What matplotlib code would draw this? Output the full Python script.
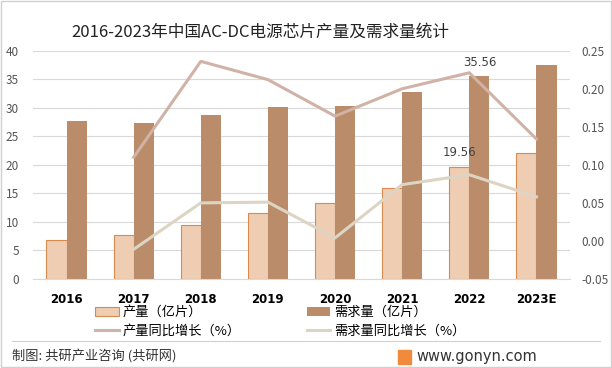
import matplotlib
matplotlib.use("Agg")
import matplotlib.pyplot as plt
import numpy as np
from matplotlib.patches import Rectangle, Patch
from matplotlib.lines import Line2D

plt.rcParams["font.family"] = ["Noto Sans CJK SC", "DejaVu Sans"]

years = ["2016", "2017", "2018", "2019", "2020", "2021", "2022", "2023E"]
output = [6.8, 7.7, 9.4, 11.5, 13.3, 16.0, 19.56, 22.0]
demand = [27.7, 27.4, 28.8, 30.2, 30.35, 32.7, 35.56, 37.5]
output_growth = [None, 0.11, 0.236, 0.212, 0.164, 0.20, 0.221, 0.134]
demand_growth = [None, -0.011, 0.05, 0.051, 0.004, 0.074, 0.087, 0.058]

c_out = "#EECDB3"
c_out_edge = "#D98B4F"
c_dem = "#BA8C6A"
c_out_line = "#D1B2A7"
c_dem_line = "#DDD5C4"

fig = plt.figure(figsize=(6.12, 3.68), dpi=100)
ax = fig.add_axes([33 / 612, 1 - 279 / 368, 537 / 612, 228.3 / 368])

x = np.arange(len(years))
w = 0.3
ax.bar(x - w / 2, output, w, color=c_out, edgecolor=c_out_edge, linewidth=0.8, zorder=2)
ax.bar(x + w / 2, demand, w, color=c_dem, zorder=2)
ax.set_ylim(0, 40)
ax.set_yticks(range(0, 41, 5))
ax.set_xlim(-0.5, len(years) - 0.5)
ax.set_xticks(x)
ax.set_xticklabels(years, fontweight="bold", fontsize=8.5, family="DejaVu Sans")
ax.tick_params(axis="x", length=0, pad=10)
ax.tick_params(axis="y", length=0, labelsize=8.5, colors="#555555", pad=10)
ax.grid(axis="y", color="#D9D9D9", linewidth=0.8, zorder=0)
for s in ax.spines.values():
    s.set_visible(False)
ax.spines["bottom"].set_visible(True)
ax.spines["bottom"].set_color("#D9D9D9")

ax.annotate("19.56", (x[6] - w / 2, output[6]), xytext=(0, 6), textcoords="offset points",
            ha="center", va="bottom", fontsize=8.5, color="#404040", family="DejaVu Sans")
ax.annotate("35.56", (x[6] + w / 2, demand[6]), xytext=(0, 5), textcoords="offset points",
            ha="center", va="bottom", fontsize=8.5, color="#404040", family="DejaVu Sans")

ax2 = ax.twinx()
ax2.plot(x[1:], output_growth[1:], color=c_out_line, linewidth=2.2, zorder=3)
ax2.plot(x[1:], demand_growth[1:], color=c_dem_line, linewidth=2.2, zorder=3)
ax2.set_ylim(-0.05, 0.25)
ax2.set_yticks(np.arange(-0.05, 0.251, 0.05))
ax2.set_yticklabels(["%.2f" % v for v in np.arange(-0.05, 0.251, 0.05)])
ax2.tick_params(axis="y", length=0, labelsize=8.5, colors="#555555", pad=8)
for s in ax2.spines.values():
    s.set_visible(False)

fig.text(260 / 612, 1 - 32 / 368, "2016-2023年中国AC-DC电源芯片产量及需求量统计", ha="center", va="center",
         fontsize=12, color="#222222")

# column-wise fill: left column = output items, right column = demand items
handles = [
    Patch(facecolor=c_out, edgecolor=c_out_edge, linewidth=0.8),
    Line2D([0], [0], color=c_out_line, linewidth=2.2),
    Patch(facecolor=c_dem),
    Line2D([0], [0], color=c_dem_line, linewidth=2.2),
]
labels = ["产量（亿片）", "产量同比增长（%）", "需求量（亿片）", "需求量同比增长（%）"]
fig.legend(handles, labels, ncol=2, loc="center left", bbox_to_anchor=(83 / 612, 1 - 322 / 368),
           frameon=False, fontsize=9.5, columnspacing=5, handlelength=1.8,
           handleheight=0.7, labelspacing=0.45, handletextpad=0.3)

fig.add_artist(Line2D([12 / 612, 600 / 612], [1 - 341 / 368] * 2, color="#D0D0D0", linewidth=0.8))
fig.text(12 / 612, 1 - 357 / 368, "制图: 共研产业咨询 (共研网)", ha="left", va="center",
         fontsize=9.5, color="#333333")
fig.add_artist(Rectangle((398 / 612, 1 - 364 / 368), 13 / 612, 14 / 368, color="#F08A3C"))
fig.text(416 / 612, 1 - 357 / 368, "www.gonyn.com", ha="left", va="center",
         fontsize=10.5, color="#333333", family="DejaVu Sans")

fig.add_artist(Rectangle((0.002, 0.003), 0.996, 0.994, fill=False, edgecolor="#D0D0D0", linewidth=1))

fig.savefig("out.png", dpi=100)
